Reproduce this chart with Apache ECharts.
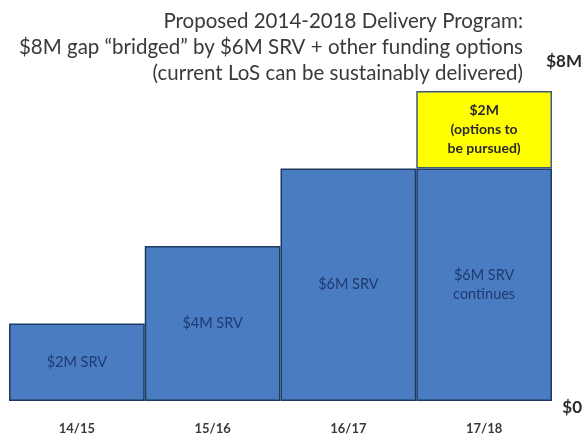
<!DOCTYPE html>
<html>
<head>
<meta charset="utf-8">
<script src="https://cdn.jsdelivr.net/npm/echarts@6/dist/echarts.min.js"></script>
<style>
  html, body { margin: 0; padding: 0; background: #ffffff; }
  #chart { width: 585px; height: 441px; }
</style>
</head>
<body>
<div id="chart"></div>
<script>
// Financial years of the delivery program
const years = ['14/15', '15/16', '16/17', '17/18'];
// SRV funding per year ($M)
const srvValues = [2, 4, 6, 6];
// Other funding options still to be pursued ($M)
const optionValues = ['-', '-', '-', 2];
// Labels shown inside the bars
const srvLabels = ['$2M SRV', '$4M SRV', '$6M SRV', '$6M SRV\ncontinues'];
const optionLabels = ['', '', '', '$2M\n(options to\nbe pursued)'];
// Value-axis end labels
const yTickLabels = { 0: '$0', 8: '$8M' };
const titleLines = [
  'Proposed 2014-2018 Delivery Program:',
  '$8M gap \u201cbridged\u201d by $6M SRV + other funding options',
  '(current LoS can be sustainably delivered)'
];

const chart = echarts.init(document.getElementById('chart'), null, { renderer: 'canvas' });

const FONT = 'Lato, "Open Sans", sans-serif';

// Right-aligned heading, one text element per line
const heading = titleLines.map((line, i) => ({
  type: 'text',
  x: 523,
  y: 21 + i * 26,
  style: {
    text: line,
    align: 'right',
    verticalAlign: 'middle',
    fontFamily: FONT,
    fontSize: 20.5,
    fill: '#3a3a3a'
  }
}));

chart.setOption({
  backgroundColor: '#ffffff',
  animation: false,
  graphic: heading,
  grid: { left: 9, right: 30, top: 91, bottom: 40 },
  xAxis: {
    type: 'category',
    data: years,
    axisLine: { show: false },
    axisTick: { show: false },
    axisLabel: {
      margin: 21,
      fontFamily: FONT,
      fontSize: 13,
      fontWeight: 'bold',
      color: '#3a3a3a'
    }
  },
  yAxis: {
    type: 'value',
    position: 'right',
    min: 0,
    max: 8,
    interval: 8,
    splitLine: { show: false },
    axisLine: { show: false },
    axisTick: { show: false },
    axisLabel: {
      align: 'right',
      margin: 30,
      formatter: v => v === 8 ? '{t|' + yTickLabels[v] + '}' : '{z|' + yTickLabels[v] + '}',
      rich: {
        t: { fontFamily: FONT, fontSize: 17, fontWeight: 'bold', color: '#2a2a2a', padding: [0, 0, 58, 0] },
        z: { fontFamily: FONT, fontSize: 17, fontWeight: 'bold', color: '#2a2a2a', padding: [14, 0, 0, 0] }
      }
    }
  },
  series: [
    {
      type: 'bar',
      stack: 'total',
      data: srvValues,
      barCategoryGap: '0%',
      itemStyle: { color: '#4a7cc2', borderColor: '#1f3a5f', borderWidth: 1.5 },
      label: {
        show: true,
        position: 'inside',
        formatter: p => srvLabels[p.dataIndex],
        fontFamily: FONT,
        fontSize: 14.5,
        lineHeight: 19,
        color: '#1f3a70'
      }
    },
    {
      type: 'bar',
      stack: 'total',
      data: optionValues,
      barCategoryGap: '0%',
      itemStyle: { color: '#ffff00', borderColor: '#3d5a80', borderWidth: 1.5 },
      label: {
        show: true,
        position: 'inside',
        formatter: p => optionLabels[p.dataIndex],
        fontFamily: FONT,
        fontSize: 14,
        fontWeight: 'bold',
        lineHeight: 19,
        color: '#2a2a2a'
      }
    }
  ]
});
</script>
</body>
</html>
